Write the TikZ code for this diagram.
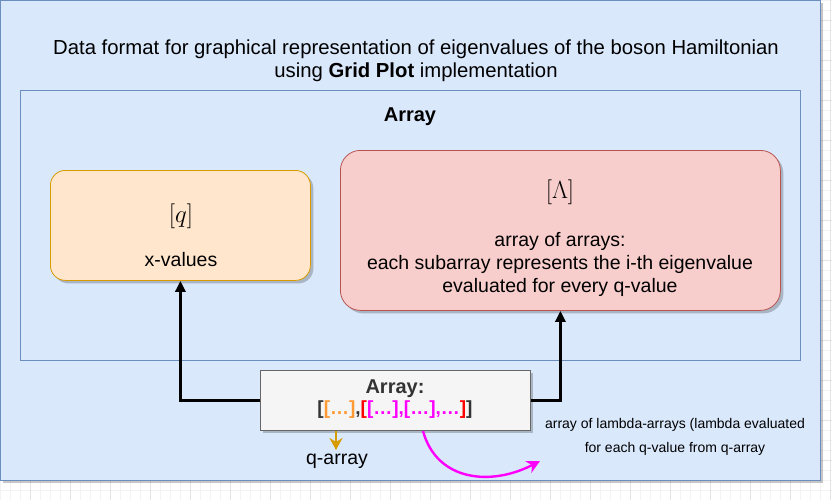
\documentclass[tikz,border=0pt]{standalone}
\usepackage{fontspec}
\setmainfont{Liberation Sans}
\usetikzlibrary{arrows.meta}
\definecolor{bluefill}{HTML}{DAE8FC}
\definecolor{bluedraw}{HTML}{6C8EBF}
\definecolor{yelfill}{HTML}{FFE6CC}
\definecolor{yeldraw}{HTML}{D79B00}
\definecolor{redfill}{HTML}{F8CECC}
\definecolor{reddraw}{HTML}{B85450}
\definecolor{grayfill}{HTML}{F5F5F5}
\definecolor{graydraw}{HTML}{666666}
\definecolor{darktext}{HTML}{333333}
\definecolor{orangetxt}{HTML}{FF9933}
\definecolor{magentatxt}{HTML}{FF00FF}
\definecolor{redtxt}{HTML}{FF0000}
\definecolor{gridminor}{HTML}{F3F3F3}
\definecolor{gridmajor}{HTML}{E4E4E4}
\tikzset{
  shadowed/.style={preaction={fill=black,opacity=0.22,transform canvas={xshift=3pt,yshift=-3pt}}},
  container/.style={draw=bluedraw,fill=bluefill,line width=0.8pt,anchor=north west,inner sep=0pt},
  yelbox/.style={draw=yeldraw,fill=yelfill,rounded corners=15pt,line width=0.8pt,anchor=north west,inner sep=0pt,shadowed},
  redbox/.style={draw=reddraw,fill=redfill,rounded corners=20pt,line width=0.8pt,anchor=north west,inner sep=0pt,shadowed},
  arrbox/.style={draw=graydraw,fill=grayfill,line width=0.8pt,anchor=north west,inner sep=0pt,shadowed},
  txt/.style={inner sep=0pt,align=center,font=\fontsize{19.5}{23}\selectfont},
  conn/.style={line width=3pt,-{Triangle[length=11pt,width=10pt]}},
  orangearr/.style={draw=yeldraw,line width=2.2pt,-{Stealth[length=12pt,width=13pt,inset=4pt]}},
  magarr/.style={draw=magentatxt,line width=2.4pt,-{Stealth[length=13pt,width=13pt,inset=4pt]}},
}
\begin{document}
\begin{tikzpicture}[x=1pt,y=-1pt]
\useasboundingbox (0,0) rectangle (832,500);
% background grid
\fill[white] (0,0) rectangle (832,500);
\foreach \i in {0,10,...,830} {\draw[gridminor,line width=0.6pt] (\i,0) -- (\i,500);}
\foreach \i in {0,10,...,500} {\draw[gridminor,line width=0.6pt] (0,\i) -- (832,\i);}
\foreach \i in {30,70,...,830} {\draw[gridmajor,line width=0.8pt] (\i,0) -- (\i,500);}
\foreach \i in {20,60,...,500} {\draw[gridmajor,line width=0.8pt] (0,\i) -- (832,\i);}
% outer container
\node[container,shadowed,minimum width=820pt,minimum height=480pt] (outer) at (0,0) {};
\node[txt,font=\fontsize{20.3}{23}\selectfont] (title) at (416,61) {Data format for graphical representation of eigenvalues of the boson Hamiltonian\\using \textbf{Grid Plot} implementation};
% inner Array container
\node[container,minimum width=780pt,minimum height=270pt] (inner) at (20,90) {};
\node[txt,font=\bfseries\fontsize{20}{22}\selectfont] (arraylbl) at (410,117) {Array};
% yellow box
\node[yelbox,minimum width=260pt,minimum height=110pt] (yel) at (50,170) {};
\node[txt,font=\fontsize{25}{27}\selectfont] (qmath) at (181,216) {$[q]$};
\node[txt] (xval) at (181,260) {x-values};
% red box
\node[redbox,minimum width=440pt,minimum height=160pt] (red) at (340,150) {};
\node[txt,font=\fontsize{25}{27}\selectfont] (lmath) at (560,192) {$[\Lambda]$};
\node[txt] (rtext) at (560,264) {array of arrays:\\each subarray represents the i-th eigenvalue\\evaluated for every q-value};
% array box
\node[arrbox,minimum width=270pt,minimum height=60pt] (arr) at (260,370) {};
\node[txt,font=\bfseries\fontsize{20}{22}\selectfont,text=darktext] (arrt) at (395,389) {Array:};
\node[txt,font=\bfseries\fontsize{19}{22}\selectfont] (arrb) at (395,410) {\textcolor{darktext}{[}\textcolor{orangetxt}{[…]}\textcolor{darktext}{,}\textcolor{redtxt}{[}\textcolor{magentatxt}{[…],[…],…}\textcolor{redtxt}{]}\textcolor{darktext}{]}};
% connectors
\draw[conn] (arr.west) -| (yel.south);
\draw[conn] (arr.east) -| (red.south);
% q-array
\node[txt] (qarr) at (337,461) {q-array};
\coordinate (qs) at (336,431);
\draw[orangearr] (qs) -- (336,450);
% lambda arrays
\node[txt,font=\fontsize{14}{24}\selectfont] (lam) at (675,437) {array of lambda-arrays (lambda evaluated\\for each q-value from q-array};
\coordinate (ms) at (423,431);
\coordinate (me) at (540,461);
\draw[magarr] (ms) .. controls (437,482) and (492,486) .. (me);
\end{tikzpicture}
\end{document}
